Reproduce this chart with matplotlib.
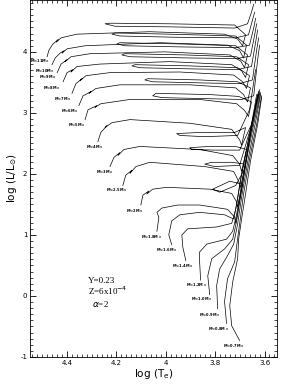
import matplotlib.pyplot as plt
from matplotlib.ticker import MultipleLocator

# evolutionary tracks: log Teff, log L/Lsun
logT_11 = [4.481, 4.473, 4.457, 4.436, 4.444, 4.424, 4.360, 4.065, 3.762, 3.709, 3.689, 3.677,
           3.721, 3.984, 4.226, 4.246, 4.206, 3.984, 3.721, 3.669, 3.653, 3.644]
logL_11 = [3.92, 4.03, 4.13, 4.20, 4.16, 4.23, 4.29, 4.33, 4.29, 4.21, 4.10, 4.28,
           4.44, 4.46, 4.47, 4.46, 4.42, 4.41, 4.39, 4.46, 4.65, 4.78]
logT_10 = [4.461, 4.448, 4.428, 4.412, 4.420, 4.400, 4.327, 4.024, 3.750, 3.701, 3.685, 3.673,
           3.717, 3.984, 4.206, 4.218, 4.186, 3.964, 3.717, 3.665, 3.649, 3.640]
logL_10 = [3.79, 3.90, 3.98, 4.02, 3.98, 4.05, 4.10, 4.15, 4.11, 4.02, 3.90, 4.11,
           4.26, 4.29, 4.31, 4.29, 4.26, 4.24, 4.23, 4.28, 4.52, 4.65]
logT_9 = [4.440, 4.424, 4.400, 4.408, 4.384, 4.307, 4.004, 3.741, 3.697, 3.681, 3.669,
          3.717, 3.943, 4.186, 4.198, 4.166, 3.923, 3.717, 3.661, 3.644, 3.636]
logL_9 = [3.66, 3.80, 3.87, 3.84, 3.92, 3.97, 4.00, 3.95, 3.85, 3.74, 3.95,
          4.10, 4.13, 4.15, 4.13, 4.10, 4.08, 4.07, 4.11, 4.39, 4.55]
logT_8 = [4.416, 4.400, 4.376, 4.384, 4.360, 4.267, 3.984, 3.733, 3.693, 3.677, 3.665,
          3.713, 3.923, 4.166, 4.178, 4.145, 3.903, 3.713, 3.657, 3.640, 3.632]
logL_8 = [3.51, 3.66, 3.71, 3.67, 3.76, 3.80, 3.84, 3.79, 3.69, 3.58, 3.79,
          3.92, 3.95, 3.97, 3.95, 3.92, 3.90, 3.89, 3.93, 4.28, 4.46]
logT_7 = [4.380, 4.364, 4.339, 4.347, 4.323, 4.226, 3.943, 3.725, 3.689, 3.673, 3.661,
          3.709, 3.903, 4.125, 4.137, 4.105, 3.883, 3.709, 3.653, 3.636, 3.628]
logL_7 = [3.32, 3.48, 3.56, 3.53, 3.61, 3.66, 3.67, 3.62, 3.51, 3.40, 3.61,
          3.74, 3.77, 3.79, 3.77, 3.74, 3.72, 3.71, 3.76, 4.16, 4.36]
logT_6 = [4.352, 4.335, 4.303, 4.311, 4.283, 4.186, 3.903, 3.717, 3.685, 3.669, 3.657,
          3.709, 3.863, 4.073, 4.085, 4.053, 3.842, 3.701, 3.649, 3.632, 3.624]
logL_6 = [3.12, 3.28, 3.35, 3.32, 3.40, 3.46, 3.46, 3.41, 3.30, 3.18, 3.41,
          3.51, 3.54, 3.56, 3.54, 3.51, 3.49, 3.48, 3.54, 4.03, 4.23]
logT_5 = [4.327, 4.315, 4.279, 4.287, 4.263, 4.145, 3.863, 3.713, 3.681, 3.665, 3.653,
          3.705, 3.822, 4.040, 4.053, 4.016, 3.802, 3.693, 3.644, 3.628, 3.620]
logL_5 = [2.89, 3.05, 3.12, 3.09, 3.15, 3.22, 3.22, 3.15, 3.04, 2.94, 3.18,
          3.27, 3.30, 3.32, 3.28, 3.25, 3.23, 3.22, 3.28, 3.87, 4.11]
logT_4 = [4.275, 4.263, 4.238, 4.246, 4.218, 4.145, 3.903, 3.733, 3.701, 3.693, 3.677,
          3.721, 3.863, 3.956, 3.943, 3.842, 3.709, 3.661, 3.636]
logL_4 = [2.53, 2.68, 2.79, 2.76, 2.84, 2.89, 2.83, 2.73, 2.56, 2.47, 2.76,
          2.68, 2.68, 2.66, 2.63, 2.61, 2.63, 3.05, 3.71]
logT_3 = [4.226, 4.210, 4.186, 4.194, 4.170, 4.105, 3.863, 3.729, 3.701, 3.693, 3.673,
          3.717, 3.822, 3.903, 3.895, 3.802, 3.701, 3.653, 3.632]
logL_3 = [2.12, 2.27, 2.35, 2.30, 2.40, 2.45, 2.40, 2.30, 2.16, 2.04, 2.40,
          2.45, 2.45, 2.43, 2.40, 2.39, 2.39, 2.81, 3.30]
logT_2p5 = [4.174, 4.162, 4.137, 4.145, 4.121, 4.065, 3.842, 3.725, 3.705, 3.697, 3.677,
            3.733, 3.814, 3.842, 3.802, 3.701, 3.644, 3.628]
logL_2p5 = [1.81, 1.98, 2.06, 2.01, 2.12, 2.19, 2.12, 2.04, 1.88, 1.78, 2.16,
            2.19, 2.19, 2.16, 2.12, 2.14, 2.92, 3.30]
logT_2 = [4.101, 4.093, 4.069, 4.077, 4.053, 3.996, 3.822, 3.733, 3.713, 3.709, 3.689,
          3.741, 3.810, 3.782, 3.717, 3.681, 3.661, 3.636, 3.624]
logL_2 = [1.49, 1.65, 1.72, 1.67, 1.75, 1.78, 1.75, 1.68, 1.54, 1.46, 1.83,
          1.88, 1.75, 1.70, 1.81, 2.08, 2.56, 3.14, 3.35]
logT_1p8 = [4.036, 4.028, 4.036, 4.016, 3.952, 3.863, 3.750, 3.721, 3.717, 3.689, 3.661, 3.632, 3.620]
logL_1p8 = [1.06, 1.29, 1.37, 1.44, 1.49, 1.49, 1.42, 1.29, 1.19, 1.83, 2.56, 3.22, 3.38]
logT_1p6 = [3.976, 3.988, 3.976, 3.943, 3.863, 3.762, 3.725, 3.713, 3.693, 3.669, 3.644, 3.624]
logL_1p6 = [0.84, 1.00, 1.23, 1.33, 1.37, 1.33, 1.26, 1.50, 1.99, 2.48, 2.97, 3.30]
logT_1p4 = [3.919, 3.931, 3.935, 3.911, 3.794, 3.733, 3.717, 3.697, 3.673, 3.649, 3.620]
logL_1p4 = [0.58, 0.80, 1.00, 1.10, 1.13, 1.19, 1.42, 1.91, 2.40, 2.89, 3.35]
logT_1p2 = [3.859, 3.863, 3.863, 3.834, 3.754, 3.729, 3.713, 3.693, 3.669, 3.644, 3.620]
logL_1p2 = [0.26, 0.56, 0.72, 0.85, 0.93, 1.06, 1.34, 1.83, 2.40, 2.89, 3.32]
logT_1p0 = [3.822, 3.830, 3.814, 3.762, 3.729, 3.713, 3.693, 3.669, 3.640, 3.616]
logL_1p0 = [0.02, 0.33, 0.61, 0.77, 0.93, 1.23, 1.75, 2.32, 2.89, 3.33]
logT_0p9 = [3.790, 3.794, 3.782, 3.750, 3.725, 3.709, 3.689, 3.665, 3.636, 3.616]
logL_0p9 = [-0.21, 0.17, 0.44, 0.66, 0.85, 1.18, 1.72, 2.27, 2.86, 3.30]
logT_0p8 = [3.754, 3.762, 3.750, 3.721, 3.713, 3.701, 3.685, 3.661, 3.632, 3.612]
logL_0p8 = [-0.45, -0.09, 0.28, 0.56, 0.82, 1.18, 1.67, 2.24, 2.81, 3.28]
logT_0p7 = [3.701, 3.733, 3.741, 3.729, 3.709, 3.705, 3.693, 3.677, 3.657, 3.628, 3.612]
logL_0p7 = [-0.73, -0.49, -0.16, 0.23, 0.61, 0.93, 1.26, 1.67, 2.21, 2.81, 3.25]

masses = ["11", "10", "9", "8", "7", "6", "5", "4", "3", "2.5", "2",
          "1.8", "1.6", "1.4", "1.2", "1.0", "0.9", "0.8", "0.7"]
label_T = [4.509, 4.489, 4.477, 4.461, 4.420, 4.388, 4.360, 4.287, 4.246, 4.198, 4.125,
           4.057, 3.996, 3.931, 3.875, 3.855, 3.822, 3.786, 3.725]
label_L = [3.84, 3.69, 3.58, 3.41, 3.22, 3.02, 2.79, 2.43, 2.03, 1.73, 1.39,
           0.97, 0.75, 0.48, 0.17, -0.06, -0.32, -0.55, -0.83]

tracks = [(logT_11, logL_11), (logT_10, logL_10), (logT_9, logL_9), (logT_8, logL_8),
          (logT_7, logL_7), (logT_6, logL_6), (logT_5, logL_5), (logT_4, logL_4),
          (logT_3, logL_3), (logT_2p5, logL_2p5), (logT_2, logL_2), (logT_1p8, logL_1p8),
          (logT_1p6, logL_1p6), (logT_1p4, logL_1p4), (logT_1p2, logL_1p2),
          (logT_1p0, logL_1p0), (logT_0p9, logL_0p9), (logT_0p8, logL_0p8),
          (logT_0p7, logL_0p7)]

fig = plt.figure(figsize=(3.0, 3.88), dpi=100)
ax = fig.add_axes([0.10, 0.08, 0.823, 0.92])

for T, L in tracks:
    ax.plot(T, L, color="black", lw=0.5)

for m, t, l in zip(masses, label_T, label_L):
    ax.text(t, l, "M=" + m + r"M$_\odot$", fontsize=2.6, fontweight="bold",
            ha="center", va="center")

ax.text(4.315, 0.25, "Y=0.23", fontsize=6.5, family="Liberation Serif", va="center")
ax.text(4.315, 0.09, r"Z=6x10$^{-4}$", fontsize=6.5, family="Liberation Serif", va="center")
ax.text(4.300, -0.13, r"$\alpha$=2", fontsize=6.5, family="Liberation Serif", va="center")

ax.set_xlim(4.55, 3.55)
ax.set_ylim(-1, 4.85)
ax.set_xticks([4.4, 4.2, 4.0, 3.8, 3.6], ["4.4", "4.2", "4", "3.8", "3.6"])
ax.set_yticks([-1, 0, 1, 2, 3, 4], ["-1", "0", "1", "2", "3", "4"])
ax.xaxis.set_minor_locator(MultipleLocator(0.02))
ax.yaxis.set_minor_locator(MultipleLocator(0.1))
ax.tick_params(which="both", direction="in", top=True, right=True, labelsize=5, pad=2)
ax.tick_params(which="major", length=4, width=0.6)
ax.tick_params(which="minor", length=2, width=0.5)
for s in ax.spines.values():
    s.set_linewidth(0.6)

ax.set_xlabel(r"log (T$_{\rm e}$)", fontsize=7.5, labelpad=1)
ax.set_ylabel(r"log (L/L$_{\odot}$)", fontsize=7.5, labelpad=1)

fig.savefig("out.png", dpi=100)
